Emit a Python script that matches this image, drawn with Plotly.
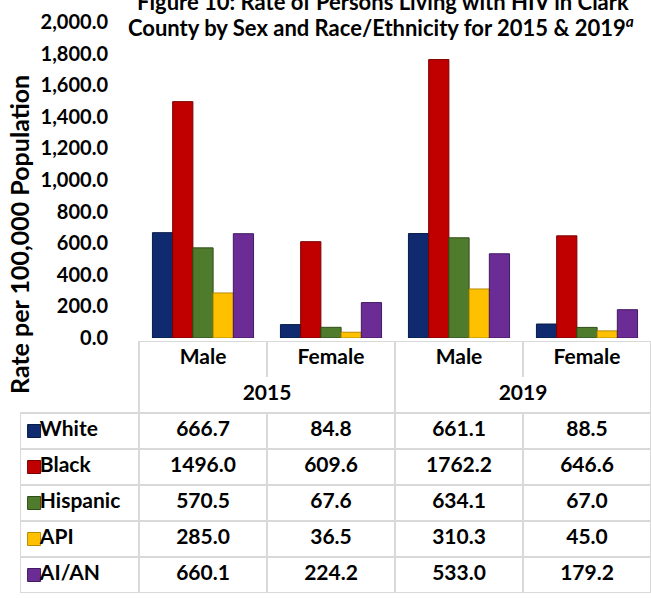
import plotly.graph_objects as go

# categories
sexes = ["Male", "Female", "Male", "Female"]
years = ["2015", "2015", "2019", "2019"]
groups = ["White", "Black", "Hispanic", "API", "AI/AN"]

# rates per 100,000
white = [666.7, 84.8, 661.1, 88.5]
black = [1496.0, 609.6, 1762.2, 646.6]
hispanic = [570.5, 67.6, 634.1, 67.0]
api = [285.0, 36.5, 310.3, 45.0]
aian = [660.1, 224.2, 533.0, 179.2]

series = [white, black, hispanic, api, aian]
colors = ["#0f2a6e", "#c00000", "#4f7b2c", "#ffc000", "#6b2c96"]
edges = ["#081a48", "#7a0000", "#2f4d18", "#b88a00", "#421a60"]

W, H = 651, 598
FONT = "Lato"
GRID = "#d9d9d9"
TXT = dict(family=FONT, size=21, color="black", weight="bold")


def px_x(p):
    return p / W


def px_y(p):
    return 1 - p / H


fig = go.Figure()

# bars
for name, vals, c, e in zip(groups, series, colors, edges):
    fig.add_trace(go.Bar(
        x=[years, sexes], y=vals, name=name,
        marker=dict(color=c, line=dict(color=e, width=1)),
        xaxis="x", yaxis="y", showlegend=False,
    ))

# table (own axes under the bars)
col_idx = list(range(len(sexes)))
for i, vals in enumerate(series):
    fig.add_trace(go.Scatter(
        x=col_idx, y=[i] * len(vals), mode="text",
        text=["%.1f" % v for v in vals], textfont=TXT,
        xaxis="x2", yaxis="y2", showlegend=False, hoverinfo="skip",
    ))

# header rows: sex, then year
fig.add_trace(go.Scatter(
    x=col_idx, y=[-2] * len(sexes), mode="text", text=sexes, textfont=TXT,
    xaxis="x2", yaxis="y2", showlegend=False, hoverinfo="skip",
))
year_list = sorted(set(years))
year_pos = [sum(i for i, y in enumerate(years) if y == yr) / years.count(yr) for yr in year_list]
fig.add_trace(go.Scatter(
    x=year_pos, y=[-1] * len(year_list), mode="text", text=year_list, textfont=TXT,
    xaxis="x2", yaxis="y2", showlegend=False, hoverinfo="skip",
))

# legend keys in the first column
fig.add_trace(go.Scatter(
    x=[-1.32] * len(groups), y=list(range(len(groups))), mode="markers",
    marker=dict(symbol="square", size=13, color=colors, line=dict(color=edges, width=1)),
    xaxis="x2", yaxis="y2", showlegend=False, hoverinfo="skip",
))
fig.add_trace(go.Scatter(
    x=[-1.275] * len(groups), y=list(range(len(groups))), mode="text",
    text=groups, textposition="middle right", textfont=TXT,
    xaxis="x2", yaxis="y2", showlegend=False, hoverinfo="skip",
))

# table lines
x_left = -1.43
lines = []
for r in range(len(groups) + 1):
    lines.append((x_left, r - 0.5, 3.5, r - 0.5))
for xv in [x_left, -0.5, 0.5, 1.5, 2.5, 3.5]:
    lines.append((xv, -0.5, xv, len(groups) - 0.5))
lines.append((-0.5, -2.5, 3.5, -2.5))
for xv in [-0.5, 1.5, 3.5]:
    lines.append((xv, -2.5, xv, -0.5))
for xv in [0.5, 2.5]:
    lines.append((xv, -2.5, xv, -1.5))
for x0, y0, x1, y1 in lines:
    fig.add_shape(type="line", xref="x2", yref="y2", x0=x0, y0=y0, x1=x1, y1=y1,
                  line=dict(color=GRID, width=2), layer="below")

fig.update_layout(
    width=W, height=H, autosize=False,
    margin=dict(l=0, r=0, t=0, b=0, pad=0),
    paper_bgcolor="white", plot_bgcolor="white",
    barmode="group", bargap=0.21, bargroupgap=0,
    xaxis=dict(domain=[px_x(139), 1], showticklabels=False, showgrid=False, automargin=False,
               zeroline=False, showline=False, ticks="", showdividers=False, anchor="y"),
    yaxis=dict(domain=[px_y(338), px_y(22)], range=[0, 2000], dtick=200, automargin=False,
               tickformat=",.1f", showgrid=False, zeroline=False, showline=False,
               ticklabelstandoff=30, anchor="x",
               tickfont=dict(family=FONT, size=20, color="black", weight="bold")),
    xaxis2=dict(domain=[px_x(20), 1], range=[x_left, 3.5], visible=False,
                automargin=False, anchor="y2"),
    yaxis2=dict(domain=[px_y(593), px_y(341)], range=[len(groups) - 0.5, -2.5],
                visible=False, automargin=False, anchor="x2"),
    annotations=[
        dict(text="Figure 10: Rate of Persons Living with HIV in Clark",
             xref="paper", yref="paper", x=px_x(383), y=px_y(2),
             xanchor="center", yanchor="middle", showarrow=False,
             font=dict(family=FONT, size=22, color="black", weight="bold")),
        dict(text="County by Sex and Race/Ethnicity for 2015 &amp; 2019<sup><i>a</i></sup>",
             xref="paper", yref="paper", x=px_x(381), y=px_y(27),
             xanchor="center", yanchor="middle", showarrow=False,
             font=dict(family=FONT, size=22, color="black", weight="bold")),
        dict(text="Rate per 100,000 Population", textangle=-90,
             xref="paper", yref="paper", x=px_x(19), y=px_y(235),
             xanchor="center", yanchor="middle", showarrow=False,
             font=dict(family=FONT, size=25, color="black", weight="bold")),
    ],
)

fig.write_html("out.html", config={"displayModeBar": False},
               post_script="document.body.style.margin='0';")
